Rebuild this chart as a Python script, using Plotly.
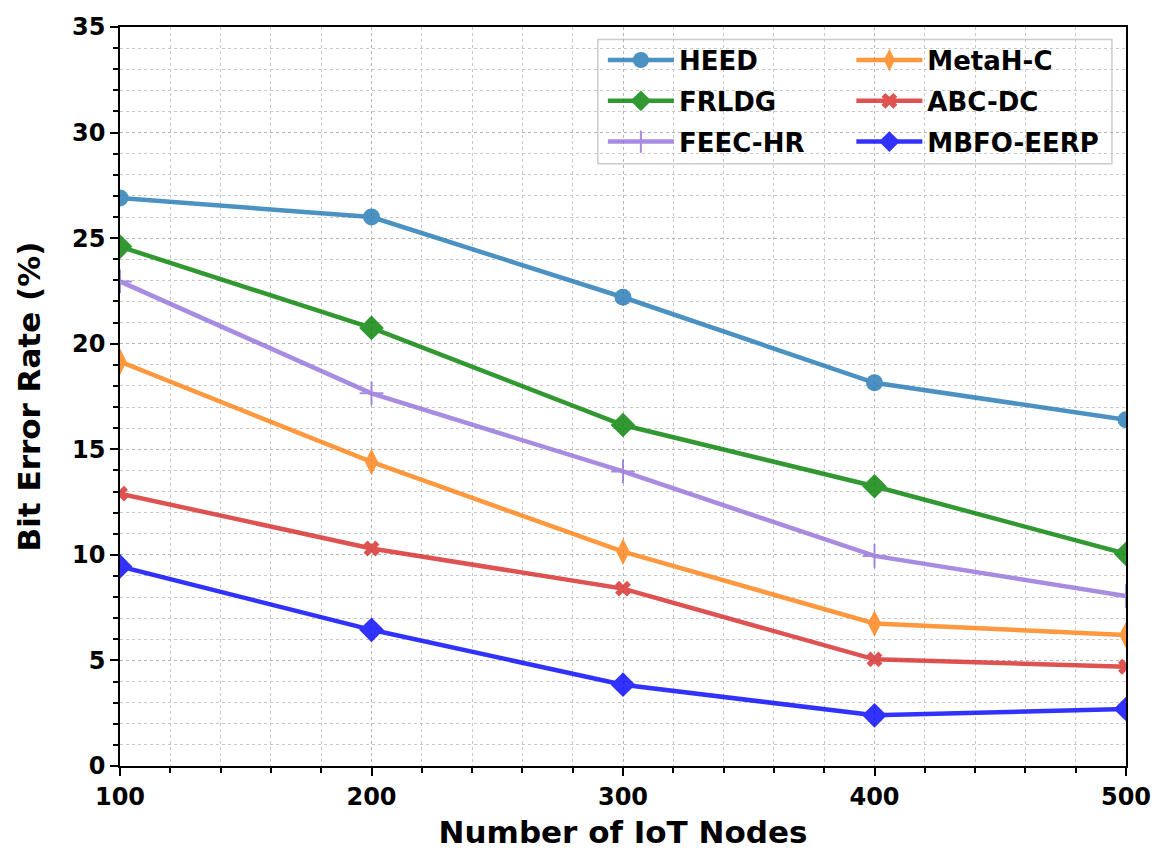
import plotly.graph_objects as go

nodes = [100, 200, 300, 400, 500]
heed = [26.9, 26.0, 22.2, 18.15, 16.4]
frldg = [24.6, 20.75, 16.15, 13.25, 10.05]
feec_hr = [22.95, 17.65, 13.95, 9.95, 8.05]
metah_c = [19.15, 14.4, 10.15, 6.75, 6.2]
abc_dc = [12.9, 10.3, 8.4, 5.05, 4.7]
mbfo_eerp = [9.45, 6.45, 3.85, 2.4, 2.7]

series = [
    ("HEED", heed, "#1f77b4", "circle", 17, "legend"),
    ("FRLDG", frldg, "#008000", "diamond", 19, "legend"),
    ("FEEC-HR", feec_hr, "#9370DB", "cross-thin", 17, "legend"),
    ("MetaH-C", metah_c, "#ff7f0e", "diamond-tall", 19, "legend2"),
    ("ABC-DC", abc_dc, "#d62728", "x", 14, "legend2"),
    ("MBFO-EERP", mbfo_eerp, "#0000ff", "diamond", 19, "legend2"),
]

fig = go.Figure()
for name, vals, color, sym, size, leg in series:
    marker = dict(symbol=sym, size=size, color=color)
    if sym == "cross-thin":
        marker["line"] = dict(color=color, width=2)
    fig.add_trace(go.Scatter(
        x=nodes, y=vals, name=name, mode="lines+markers",
        line=dict(color=color, width=4.5), marker=marker,
        opacity=0.8, legend=leg, legendgroup=name, cliponaxis=True,
    ))

font_b = dict(family="DejaVu Sans", color="black")
axis_common = dict(
    showline=True, linecolor="black", linewidth=1.5, mirror=True,
    ticks="outside", ticklen=8, tickwidth=1.5, tickcolor="black",
    showgrid=True, gridcolor="#b5b5b5", griddash="dot", gridwidth=1,
    zeroline=False, ticklabeloverflow="allow",
    tickfont=dict(family="DejaVu Sans", size=24, color="black", weight="bold"),
)

fig.update_layout(
    width=1163, height=856,
    margin=dict(l=120, r=25, t=27, b=83),
    plot_bgcolor="white", paper_bgcolor="white",
    xaxis=dict(
        range=[100, 500], tickvals=[100, 200, 300, 400, 500],
        title=dict(text="Number of IoT Nodes", font=dict(size=31, weight="bold", **font_b), standoff=12),
        minor=dict(dtick=20, tick0=100, ticks="outside", ticklen=5, tickcolor="black",
                   showgrid=True, gridcolor="#c8c8c8", griddash="dot", gridwidth=1),
        **axis_common,
    ),
    yaxis=dict(
        range=[0, 35], dtick=5,
        title=dict(text="Bit Error Rate (%)", font=dict(size=31, weight="bold", **font_b), standoff=22),
        minor=dict(dtick=1, ticks="outside", ticklen=5, tickcolor="black",
                   showgrid=True, gridcolor="#c8c8c8", griddash="dot", gridwidth=1),
        **axis_common,
    ),
    legend=dict(x=0.480, y=0.987, xanchor="left", yanchor="top",
                bgcolor="rgba(0,0,0,0)", itemwidth=66, tracegroupgap=4,
                font=dict(size=26, weight="bold", **font_b)),
    legend2=dict(x=0.727, y=0.987, xanchor="left", yanchor="top",
                 bgcolor="rgba(0,0,0,0)", itemwidth=66, tracegroupgap=4,
                 font=dict(size=26, weight="bold", **font_b)),
    shapes=[dict(type="rect", xref="paper", yref="paper",
                 x0=0.475, x1=0.986, y0=0.815, y1=0.983,
                 line=dict(color="#cccccc", width=1.5),
                 fillcolor="rgba(255,255,255,0.85)", layer="below")],
)

fig.write_html("out.html", config={"displayModeBar": False},
               post_script="document.body.style.margin='0';")
